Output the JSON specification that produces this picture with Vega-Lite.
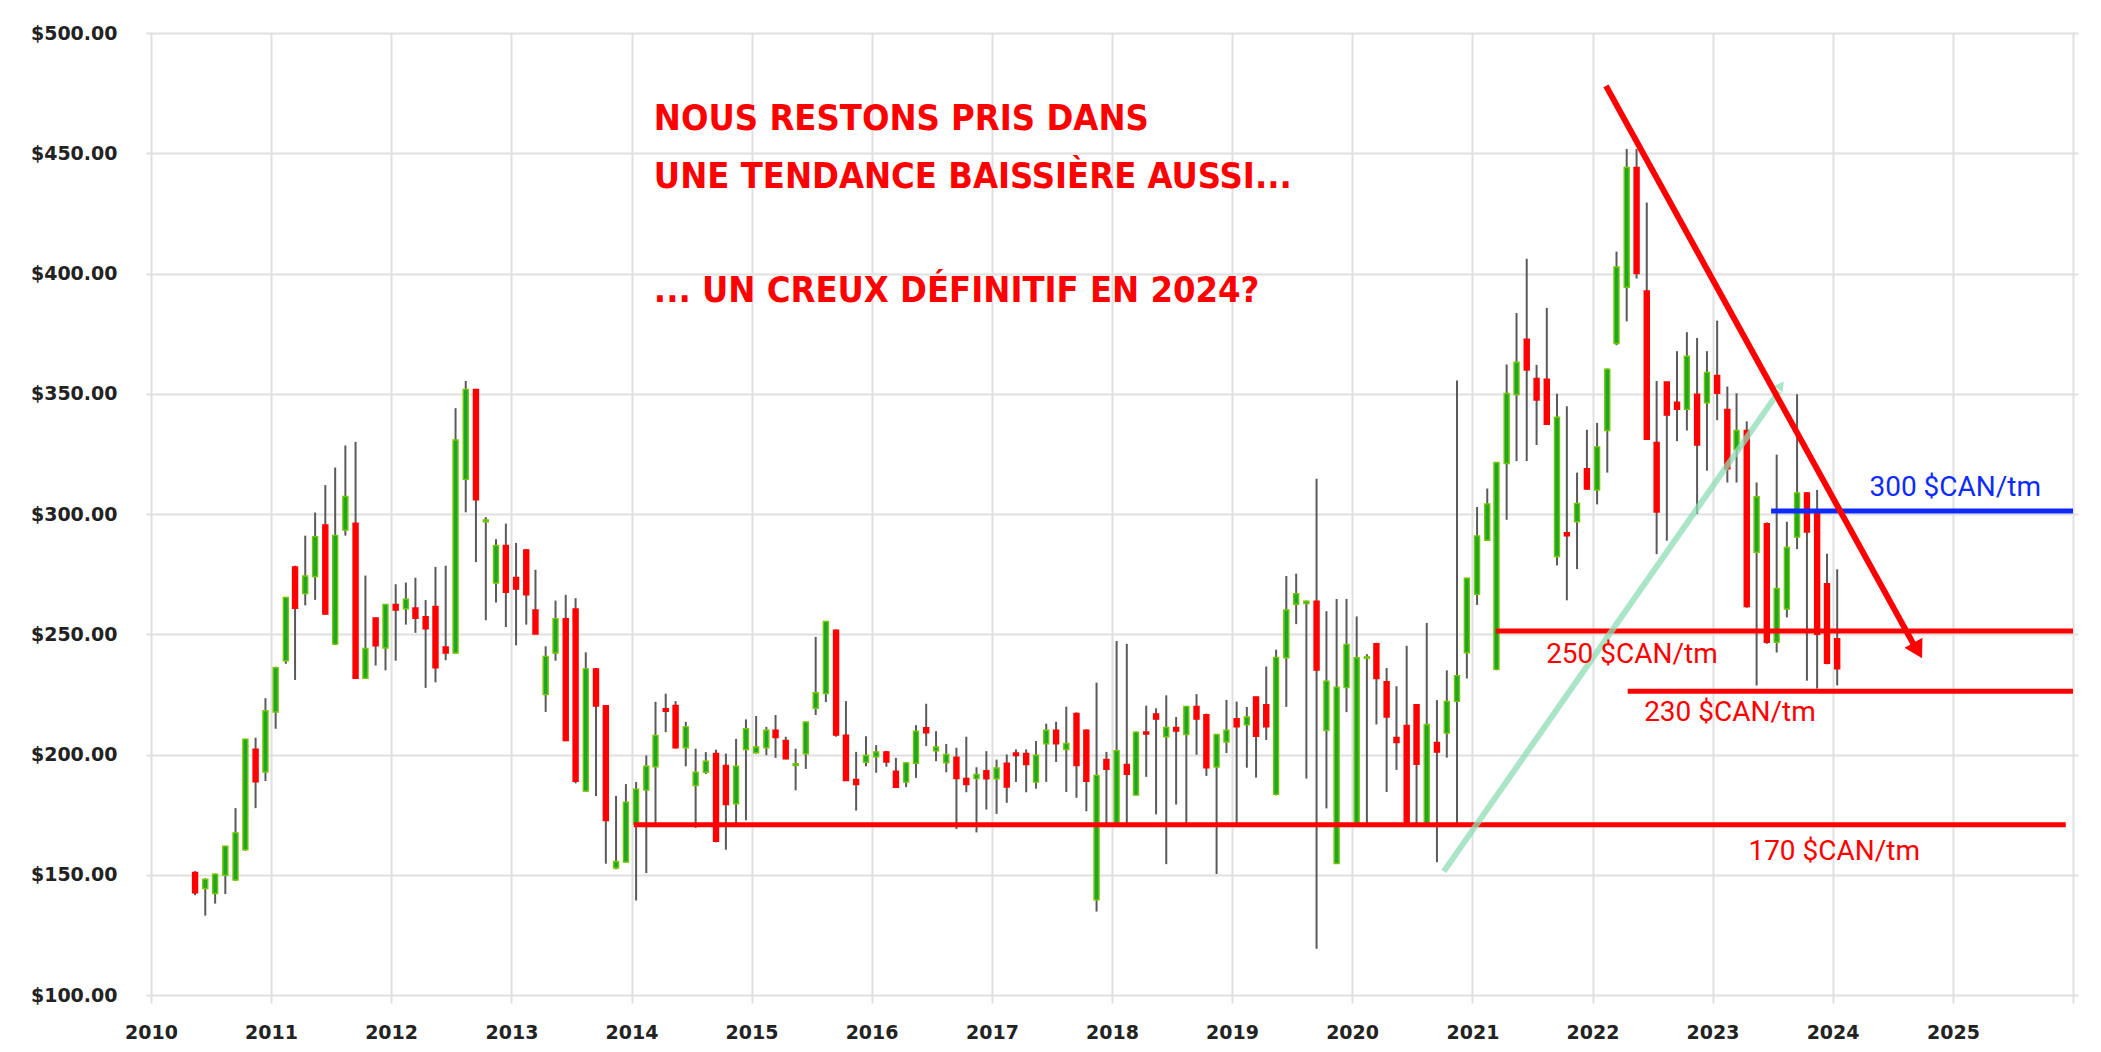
{
  "$schema": "https://vega.github.io/schema/vega-lite/v6.json",
  "width": 1932,
  "height": 962,
  "autosize": {"type": "none"},
  "padding": {"left": 146, "top": 33, "right": 23, "bottom": 57},
  "background": "#ffffff",
  "config": {
    "view": {"stroke": null},
    "axis": {"title": null, "gridColor": "#e0e0e0", "gridWidth": 2, "domain": false}
  },
  "datasets": {
    "candles": [
      {"d": "2010-05-15", "o": 151, "h": 151.5, "l": 141.5, "c": 142.5},
      {"d": "2010-06-15", "o": 144.3, "h": 148.5, "l": 133, "c": 148.1},
      {"d": "2010-07-15", "o": 142.2, "h": 150.5, "l": 138, "c": 150.2},
      {"d": "2010-08-15", "o": 149.8, "h": 162, "l": 142, "c": 161.9},
      {"d": "2010-09-15", "o": 147.8, "h": 177.7, "l": 147.5, "c": 167.4},
      {"d": "2010-10-15", "o": 160.4, "h": 206.5, "l": 160, "c": 206.4},
      {"d": "2010-11-15", "o": 202.2, "h": 207, "l": 177.7, "c": 188.7},
      {"d": "2010-12-15", "o": 192.7, "h": 223.4, "l": 189, "c": 218.2},
      {"d": "2011-01-15", "o": 217.7, "h": 236.5, "l": 210.7, "c": 236.1},
      {"d": "2011-02-15", "o": 239, "h": 265.5, "l": 237.7, "c": 265.3},
      {"d": "2011-03-15", "o": 278, "h": 278.5, "l": 231, "c": 260.8},
      {"d": "2011-04-15", "o": 266.9, "h": 291, "l": 262, "c": 274.2},
      {"d": "2011-05-15", "o": 274, "h": 300.6, "l": 264.3, "c": 290.6},
      {"d": "2011-06-15", "o": 295.4, "h": 312, "l": 258, "c": 258.4},
      {"d": "2011-07-15", "o": 245.9, "h": 319.3, "l": 245.5, "c": 291.1},
      {"d": "2011-08-15", "o": 293.3, "h": 328.5, "l": 291, "c": 307.3},
      {"d": "2011-09-15", "o": 296.2, "h": 330, "l": 231.5, "c": 231.7},
      {"d": "2011-10-15", "o": 231.7, "h": 274.4, "l": 231.5, "c": 244.1},
      {"d": "2011-11-15", "o": 256.8, "h": 257, "l": 237, "c": 245.2},
      {"d": "2011-12-15", "o": 244.3, "h": 262.5, "l": 235, "c": 262.4},
      {"d": "2012-01-15", "o": 262.4, "h": 270.8, "l": 239, "c": 260.1},
      {"d": "2012-02-15", "o": 260.6, "h": 271.5, "l": 254, "c": 264.6},
      {"d": "2012-03-15", "o": 260.9, "h": 273.5, "l": 250.6, "c": 256.6},
      {"d": "2012-04-15", "o": 257.3, "h": 264.2, "l": 227.7, "c": 252.3},
      {"d": "2012-05-15", "o": 261.6, "h": 278, "l": 230, "c": 236},
      {"d": "2012-06-15", "o": 244.7, "h": 278.5, "l": 239.2, "c": 242.2},
      {"d": "2012-07-15", "o": 242.2, "h": 344, "l": 242, "c": 330.8},
      {"d": "2012-08-15", "o": 314.4, "h": 355.3, "l": 300.7, "c": 351.8},
      {"d": "2012-09-15", "o": 351.8, "h": 352, "l": 280, "c": 305.9},
      {"d": "2012-10-15", "o": 296.8, "h": 298.7, "l": 255.8, "c": 297.5},
      {"d": "2012-11-15", "o": 271.3, "h": 289.5, "l": 263.2, "c": 286.9},
      {"d": "2012-12-15", "o": 286.9, "h": 296, "l": 253, "c": 267.4},
      {"d": "2013-01-15", "o": 273.6, "h": 288, "l": 245.4, "c": 268.8},
      {"d": "2013-02-15", "o": 285.1, "h": 285.5, "l": 254, "c": 266.4},
      {"d": "2013-03-15", "o": 260.1, "h": 276.8, "l": 250, "c": 250.1},
      {"d": "2013-04-15", "o": 224.9, "h": 245, "l": 217.7, "c": 240.8},
      {"d": "2013-05-15", "o": 242.2, "h": 264, "l": 239, "c": 256.5},
      {"d": "2013-06-15", "o": 256.5, "h": 266.4, "l": 205.5, "c": 205.8},
      {"d": "2013-07-15", "o": 260.5, "h": 265, "l": 188, "c": 188.9},
      {"d": "2013-08-15", "o": 184.8, "h": 242.5, "l": 184.5, "c": 235.6},
      {"d": "2013-09-15", "o": 235.6, "h": 236, "l": 182.7, "c": 220.1},
      {"d": "2013-10-15", "o": 220.3, "h": 220.5, "l": 154.6, "c": 172.5},
      {"d": "2013-11-15", "o": 152.8, "h": 182.8, "l": 152.3, "c": 155.5},
      {"d": "2013-12-15", "o": 155.3, "h": 187.7, "l": 155, "c": 180.2},
      {"d": "2014-01-15", "o": 171, "h": 188.6, "l": 139.3, "c": 185.6},
      {"d": "2014-02-15", "o": 185.2, "h": 199.6, "l": 150.7, "c": 195.1},
      {"d": "2014-03-15", "o": 194.9, "h": 221.9, "l": 171, "c": 207.9},
      {"d": "2014-04-15", "o": 219, "h": 225.3, "l": 209.3, "c": 218},
      {"d": "2014-05-15", "o": 220.4, "h": 222.2, "l": 202.5, "c": 202.8},
      {"d": "2014-06-15", "o": 202.8, "h": 213.6, "l": 195.1, "c": 211.5},
      {"d": "2014-07-15", "o": 187.1, "h": 202.4, "l": 169.5, "c": 192.6},
      {"d": "2014-08-15", "o": 192.6, "h": 201, "l": 191.9, "c": 197.2},
      {"d": "2014-09-15", "o": 200.4, "h": 202, "l": 163.5, "c": 163.9},
      {"d": "2014-10-15", "o": 195.4, "h": 200.4, "l": 160.4, "c": 179.2},
      {"d": "2014-11-15", "o": 179.5, "h": 206.5, "l": 171, "c": 195.1},
      {"d": "2014-12-15", "o": 202.1, "h": 214.6, "l": 172.6, "c": 210.7},
      {"d": "2015-01-15", "o": 200.7, "h": 216, "l": 200.4, "c": 203.1},
      {"d": "2015-02-15", "o": 202.8, "h": 211.5, "l": 199.7, "c": 210.1},
      {"d": "2015-03-15", "o": 210.1, "h": 216.4, "l": 198.6, "c": 207},
      {"d": "2015-04-15", "o": 205.8, "h": 207.4, "l": 198, "c": 198.2},
      {"d": "2015-05-15", "o": 195.4, "h": 202.4, "l": 185.1, "c": 196.2},
      {"d": "2015-06-15", "o": 200.3, "h": 213.6, "l": 194, "c": 213.5},
      {"d": "2015-07-15", "o": 219.2, "h": 248.9, "l": 216.4, "c": 225.7},
      {"d": "2015-08-15", "o": 225.3, "h": 255.5, "l": 221.8, "c": 255.3},
      {"d": "2015-09-15", "o": 251.7, "h": 252, "l": 207.4, "c": 208.1},
      {"d": "2015-10-15", "o": 208, "h": 222.2, "l": 189, "c": 189.2},
      {"d": "2015-11-15", "o": 189.6, "h": 201.1, "l": 176.7, "c": 187.5},
      {"d": "2015-12-15", "o": 196.8, "h": 207.6, "l": 195.1, "c": 199.6},
      {"d": "2016-01-15", "o": 199, "h": 203.9, "l": 192.4, "c": 201.1},
      {"d": "2016-02-15", "o": 201.1, "h": 201.5, "l": 194.9, "c": 196.9},
      {"d": "2016-03-15", "o": 193.1, "h": 198.6, "l": 186, "c": 186.4},
      {"d": "2016-04-15", "o": 188.5, "h": 196.8, "l": 186.4, "c": 196.5},
      {"d": "2016-05-15", "o": 196.3, "h": 212.2, "l": 190.3, "c": 209.7},
      {"d": "2016-06-15", "o": 211.1, "h": 221.1, "l": 203.5, "c": 209},
      {"d": "2016-07-15", "o": 201.5, "h": 209.7, "l": 197.2, "c": 203.1},
      {"d": "2016-08-15", "o": 196.5, "h": 204.4, "l": 192.6, "c": 200},
      {"d": "2016-09-15", "o": 198.9, "h": 202.8, "l": 169, "c": 190},
      {"d": "2016-10-15", "o": 190, "h": 207.4, "l": 184.3, "c": 187.5},
      {"d": "2016-11-15", "o": 190, "h": 194.7, "l": 167.6, "c": 191.7},
      {"d": "2016-12-15", "o": 193.3, "h": 201.4, "l": 177.1, "c": 189.9},
      {"d": "2017-01-15", "o": 189.9, "h": 197.9, "l": 175.3, "c": 194.4},
      {"d": "2017-02-15", "o": 196.4, "h": 200, "l": 179.9, "c": 186.5},
      {"d": "2017-03-15", "o": 200.6, "h": 202.1, "l": 188.6, "c": 199.6},
      {"d": "2017-04-15", "o": 200.4, "h": 202.1, "l": 184.3, "c": 195.8},
      {"d": "2017-05-15", "o": 188.5, "h": 205.6, "l": 185.8, "c": 199.7},
      {"d": "2017-06-15", "o": 204.4, "h": 212.8, "l": 188.6, "c": 210.1},
      {"d": "2017-07-15", "o": 210.1, "h": 213.6, "l": 196.9, "c": 204.4},
      {"d": "2017-08-15", "o": 202.1, "h": 219.9, "l": 184.4, "c": 204.6},
      {"d": "2017-09-15", "o": 217.1, "h": 217.5, "l": 182, "c": 195.4},
      {"d": "2017-10-15", "o": 210.1, "h": 210.5, "l": 176.4, "c": 188.9},
      {"d": "2017-11-15", "o": 139.6, "h": 229.9, "l": 134.7, "c": 191.3},
      {"d": "2017-12-15", "o": 197.9, "h": 201.1, "l": 171, "c": 193.8},
      {"d": "2018-01-15", "o": 171, "h": 247.2, "l": 170, "c": 201.6},
      {"d": "2018-02-15", "o": 195.9, "h": 246, "l": 171, "c": 191.8},
      {"d": "2018-03-15", "o": 183.1, "h": 209.5, "l": 183, "c": 209.3},
      {"d": "2018-04-15", "o": 209.4, "h": 220.3, "l": 190.7, "c": 208.5},
      {"d": "2018-05-15", "o": 216.9, "h": 219.2, "l": 175.1, "c": 214.7},
      {"d": "2018-06-15", "o": 207.4, "h": 224.6, "l": 154.4, "c": 211.2},
      {"d": "2018-07-15", "o": 211.2, "h": 215.6, "l": 179.2, "c": 209.8},
      {"d": "2018-08-15", "o": 208.3, "h": 220.2, "l": 171, "c": 220},
      {"d": "2018-09-15", "o": 220, "h": 225.1, "l": 199.9, "c": 214.7},
      {"d": "2018-10-15", "o": 216.6, "h": 217, "l": 191.1, "c": 194.5},
      {"d": "2018-11-15", "o": 194.8, "h": 208.5, "l": 150.3, "c": 208.3},
      {"d": "2018-12-15", "o": 205.2, "h": 222.7, "l": 200.6, "c": 210.1},
      {"d": "2019-01-15", "o": 214.9, "h": 222, "l": 171, "c": 211.5},
      {"d": "2019-02-15", "o": 212.3, "h": 219.8, "l": 194.5, "c": 215.6},
      {"d": "2019-03-15", "o": 223.9, "h": 224, "l": 190.4, "c": 207.6},
      {"d": "2019-04-15", "o": 220.7, "h": 236.6, "l": 206, "c": 211.5},
      {"d": "2019-05-15", "o": 183.4, "h": 243.6, "l": 183, "c": 240.4},
      {"d": "2019-06-15", "o": 240.2, "h": 274.2, "l": 219.8, "c": 260.1},
      {"d": "2019-07-15", "o": 262.5, "h": 275.2, "l": 254.2, "c": 266.9},
      {"d": "2019-08-15", "o": 262.8, "h": 264, "l": 190, "c": 263.7},
      {"d": "2019-09-15", "o": 263.7, "h": 314.7, "l": 119.2, "c": 235.1},
      {"d": "2019-10-15", "o": 210.1, "h": 259.6, "l": 177.6, "c": 230.5},
      {"d": "2019-11-15", "o": 154.7, "h": 264.7, "l": 154.5, "c": 228},
      {"d": "2019-12-15", "o": 227.8, "h": 264.7, "l": 217.6, "c": 245.8},
      {"d": "2020-01-15", "o": 170.5, "h": 257.4, "l": 170, "c": 240.2},
      {"d": "2020-02-15", "o": 240, "h": 241.7, "l": 170, "c": 240.6},
      {"d": "2020-03-15", "o": 246.1, "h": 246.5, "l": 212.5, "c": 231.6},
      {"d": "2020-04-15", "o": 230.3, "h": 236, "l": 184.4, "c": 215.6},
      {"d": "2020-05-15", "o": 207.1, "h": 228.4, "l": 193.6, "c": 205},
      {"d": "2020-06-15", "o": 212.1, "h": 245.2, "l": 170, "c": 170.5},
      {"d": "2020-07-15", "o": 220.7, "h": 221, "l": 170, "c": 195.9},
      {"d": "2020-08-15", "o": 170.5, "h": 254.7, "l": 170, "c": 212.5},
      {"d": "2020-09-15", "o": 205, "h": 222.6, "l": 155.2, "c": 201},
      {"d": "2020-10-15", "o": 208.9, "h": 235, "l": 198.7, "c": 222.1},
      {"d": "2020-11-15", "o": 222.1, "h": 355.5, "l": 170, "c": 232.8},
      {"d": "2020-12-15", "o": 242.3, "h": 273.5, "l": 231.6, "c": 273.3},
      {"d": "2021-01-15", "o": 266.6, "h": 302.9, "l": 262.2, "c": 290.9},
      {"d": "2021-02-15", "o": 289.1, "h": 310.6, "l": 289, "c": 304.2},
      {"d": "2021-03-15", "o": 235.4, "h": 321.5, "l": 235, "c": 321.4},
      {"d": "2021-04-15", "o": 321, "h": 362.2, "l": 297.6, "c": 350.1},
      {"d": "2021-05-15", "o": 349.7, "h": 383.6, "l": 322, "c": 363.1},
      {"d": "2021-06-15", "o": 372.7, "h": 406.1, "l": 322, "c": 359.9},
      {"d": "2021-07-15", "o": 356.4, "h": 362, "l": 328.7, "c": 347.4},
      {"d": "2021-08-15", "o": 356, "h": 385.7, "l": 337, "c": 337.3},
      {"d": "2021-09-15", "o": 282.3, "h": 350, "l": 278.6, "c": 340.2},
      {"d": "2021-10-15", "o": 292.2, "h": 344.8, "l": 264.1, "c": 290.9},
      {"d": "2021-11-15", "o": 296.8, "h": 317.2, "l": 277.1, "c": 304.4},
      {"d": "2021-12-15", "o": 318.8, "h": 335, "l": 310, "c": 310.4},
      {"d": "2022-01-15", "o": 310, "h": 337.9, "l": 304, "c": 327.9},
      {"d": "2022-02-15", "o": 334.7, "h": 360.5, "l": 317.2, "c": 360.2},
      {"d": "2022-03-15", "o": 370.9, "h": 409.1, "l": 370.2, "c": 402.7},
      {"d": "2022-04-15", "o": 394.3, "h": 451.8, "l": 380.1, "c": 444.1},
      {"d": "2022-05-15", "o": 444.1, "h": 451.8, "l": 397.9, "c": 400},
      {"d": "2022-06-15", "o": 392.7, "h": 429.5, "l": 331, "c": 331.1},
      {"d": "2022-07-15", "o": 329.8, "h": 355.3, "l": 283.3, "c": 300.8},
      {"d": "2022-08-15", "o": 354.9, "h": 355, "l": 288.9, "c": 341.1},
      {"d": "2022-09-15", "o": 346.5, "h": 367.7, "l": 330.3, "c": 343.5},
      {"d": "2022-10-15", "o": 343.5, "h": 375.6, "l": 334.7, "c": 365.6},
      {"d": "2022-11-15", "o": 349.8, "h": 373.2, "l": 300, "c": 328.7},
      {"d": "2022-12-15", "o": 346.2, "h": 367.7, "l": 318, "c": 358.9},
      {"d": "2023-01-15", "o": 357.6, "h": 380.4, "l": 339, "c": 350.2},
      {"d": "2023-02-15", "o": 343.5, "h": 353, "l": 313.1, "c": 318.8},
      {"d": "2023-03-15", "o": 326.8, "h": 350.2, "l": 313.1, "c": 334.7},
      {"d": "2023-04-15", "o": 334.7, "h": 338.5, "l": 261, "c": 261.5},
      {"d": "2023-05-15", "o": 284.1, "h": 313.1, "l": 228.7, "c": 307.2},
      {"d": "2023-06-15", "o": 296, "h": 296.5, "l": 246, "c": 246.7},
      {"d": "2023-07-15", "o": 246.7, "h": 324.7, "l": 242.4, "c": 269},
      {"d": "2023-08-15", "o": 260.5, "h": 296.8, "l": 257, "c": 286.1},
      {"d": "2023-09-15", "o": 290.4, "h": 349.8, "l": 285.4, "c": 308.8},
      {"d": "2023-10-15", "o": 308.8, "h": 309, "l": 230.7, "c": 292.5},
      {"d": "2023-11-15", "o": 300.5, "h": 310, "l": 227.4, "c": 250},
      {"d": "2023-12-15", "o": 271, "h": 283.5, "l": 237.5, "c": 237.9},
      {"d": "2024-01-15", "o": 248.1, "h": 277, "l": 228.7, "c": 235.6}
    ],
    "levels": [
      {"k": "red", "start": "2014-01-08", "end": "2025-12-10", "v": 170.8},
      {"k": "red", "start": "2021-03-13", "end": "2026-01-01", "v": 251.3},
      {"k": "red", "start": "2022-04-18", "end": "2026-01-01", "v": 226.3},
      {"k": "blue", "start": "2023-06-28", "end": "2026-01-01", "v": 301.2}
    ],
    "levelLabels": [
      {"k": "blue", "d": "2024-04-22", "v": 310.8, "t": "300 $CAN/tm"},
      {"k": "red", "d": "2021-08-13", "v": 241.2, "t": "250 $CAN/tm"},
      {"k": "red", "d": "2022-06-07", "v": 217.3, "t": "230 $CAN/tm"},
      {"k": "red", "d": "2023-04-20", "v": 159.3, "t": "170 $CAN/tm"}
    ],
    "trend": [
      {"k": "down", "d": "2022-02-11", "v": 478},
      {"k": "down", "d": "2024-09-14", "v": 243.2},
      {"k": "up", "d": "2020-10-06", "v": 151.4},
      {"k": "up", "d": "2023-07-22", "v": 351}
    ],
    "headline": [
      {"d": "2014-03-10", "v": 459.5, "t": "NOUS RESTONS PRIS DANS"},
      {"d": "2014-03-10", "v": 435.5, "t": "UNE TENDANCE BAISSIÈRE AUSSI..."},
      {"d": "2014-03-10", "v": 388.2, "t": "... UN CREUX DÉFINITIF EN 2024?"}
    ]
  },
  "layer": [
    {
      "data": {"name": "candles"},
      "mark": {"type": "rule", "color": "#5a5a5a", "strokeWidth": 2},
      "encoding": {
        "x": {
          "field": "d", "type": "temporal",
          "scale": {"domain": [{"year": 2010, "month": 1, "date": 1}, {"year": 2026, "month": 1, "date": 1}]},
          "axis": {
            "tickCount": {"interval": "year", "step": 1},
            "format": "%Y",
            "labelExpr": "year(datum.value) >= 2026 ? '' : timeFormat(datum.value, '%Y')",
            "grid": true,
            "ticks": true, "tickSize": 8, "tickColor": "#e0e0e0", "tickWidth": 2,
            "labelFlush": false, "labelOverlap": false, "labelPadding": 20,
            "labelFont": "DejaVu Sans", "labelFontWeight": "bold", "labelFontSize": 19, "labelColor": "#222222"
          }
        },
        "y": {
          "field": "l", "type": "quantitative",
          "scale": {"domain": [100, 500], "nice": false, "zero": false},
          "axis": {
            "values": [100, 150, 200, 250, 300, 350, 400, 450, 500],
            "format": "$.2f",
            "grid": true, "ticks": false, "tickSize": 0, "labelPadding": 29,
            "labelFont": "DejaVu Sans", "labelFontWeight": "bold", "labelFontSize": 19, "labelColor": "#222222"
          }
        },
        "y2": {"field": "h"}
      }
    },
    {
      "data": {"name": "candles"},
      "mark": {"type": "bar", "size": 5, "strokeWidth": 1.4},
      "encoding": {
        "x": {"field": "d", "type": "temporal"},
        "y": {"field": "o", "type": "quantitative"},
        "y2": {"field": "c"},
        "fill": {"condition": {"test": "datum.c >= datum.o", "value": "#1fa52a"}, "value": "#ff0000"},
        "stroke": {"condition": {"test": "datum.c >= datum.o", "value": "#72c800"}, "value": "#ff0000"}
      }
    },
    {
      "data": {"name": "levels"},
      "mark": {"type": "rule", "strokeWidth": 5},
      "encoding": {
        "x": {"field": "start", "type": "temporal"},
        "x2": {"field": "end"},
        "y": {"field": "v", "type": "quantitative"},
        "color": {"field": "k", "type": "nominal", "scale": {"domain": ["red", "blue"], "range": ["#ff0000", "#0d2bff"]}, "legend": null}
      }
    },
    {
      "data": {"name": "trend"},
      "transform": [{"filter": "datum.k == 'up'"}],
      "mark": {"type": "line", "color": "#8fdcb5", "strokeWidth": 6, "opacity": 0.75, "strokeCap": "butt"},
      "encoding": {
        "x": {"field": "d", "type": "temporal"},
        "y": {"field": "v", "type": "quantitative"}
      }
    },
    {
      "data": {"values": [{"d": "2023-07-28", "v": 353.5}]},
      "mark": {"type": "point", "shape": "triangle-up", "filled": true, "size": 120, "angle": 35, "color": "#8fdcb5", "opacity": 0.75},
      "encoding": {
        "x": {"field": "d", "type": "temporal"},
        "y": {"field": "v", "type": "quantitative"}
      }
    },
    {
      "data": {"name": "trend"},
      "transform": [{"filter": "datum.k == 'down'"}],
      "mark": {"type": "line", "color": "#ff0000", "strokeWidth": 6, "strokeCap": "butt"},
      "encoding": {
        "x": {"field": "d", "type": "temporal"},
        "y": {"field": "v", "type": "quantitative"}
      }
    },
    {
      "data": {"values": [{"d": "2024-09-16", "v": 243.2}]},
      "mark": {"type": "point", "shape": "triangle-down", "filled": true, "size": 420, "angle": -29, "color": "#ff0000", "opacity": 1},
      "encoding": {
        "x": {"field": "d", "type": "temporal"},
        "y": {"field": "v", "type": "quantitative"}
      }
    },
    {
      "data": {"name": "levelLabels"},
      "mark": {"type": "text", "align": "left", "baseline": "middle", "font": "Roboto", "fontSize": 28},
      "encoding": {
        "x": {"field": "d", "type": "temporal"},
        "y": {"field": "v", "type": "quantitative"},
        "text": {"field": "t"},
        "color": {"field": "k", "type": "nominal", "scale": {"domain": ["red", "blue"], "range": ["#ff0000", "#0d2bff"]}, "legend": null}
      }
    },
    {
      "data": {"name": "headline"},
      "mark": {"type": "text", "align": "left", "baseline": "alphabetic", "font": "DejaVu Sans Condensed, sans-serif", "fontWeight": "bold", "fontSize": 36, "color": "#ff0000"},
      "encoding": {
        "x": {"field": "d", "type": "temporal"},
        "y": {"field": "v", "type": "quantitative"},
        "text": {"field": "t"}
      }
    }
  ]
}
